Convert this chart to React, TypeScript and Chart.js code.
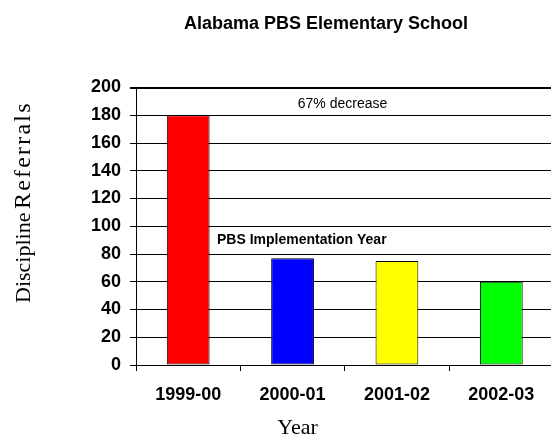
import React, { useEffect, useRef } from "react";
import { Chart, registerables } from "chart.js";

Chart.register(...registerables);

const categories = ["1999-00", "2000-01", "2001-02", "2002-03"];
const referrals = [180, 77, 75, 60];
const barColors = ["#FF0000", "#0000FF", "#FFFF00", "#00FF00"];
const yMin = 0;
const yMax = 200;
const yStep = 20;
const titleText = "Alabama PBS Elementary School";
const yTitleA = "Discipline";
const yTitleB = "Referrals";
const xTitle = "Year";
const noteTop = "67% decrease";
const noteMid = "PBS Implementation Year";

const SANS = "'Liberation Sans', Arial, sans-serif";
const SERIF = "'Liberation Serif', 'Times New Roman', serif";

const textPlugin = {
  id: "texts",
  afterDraw(chart: any) {
    const ctx = chart.ctx as CanvasRenderingContext2D;
    ctx.save();
    ctx.fillStyle = "#000";
    // Title
    ctx.font = `bold 18px ${SANS}`;
    ctx.textAlign = "center";
    ctx.textBaseline = "alphabetic";
    ctx.fillText(titleText, 326, 29);
    // annotations
    ctx.font = `14px ${SANS}`;
    ctx.fillText(noteTop, 342.5, 108);
    ctx.font = `bold 14px ${SANS}`;
    ctx.textAlign = "left";
    ctx.fillText(noteMid, 217, 244);
    // x title
    ctx.font = `22px ${SERIF}`;
    ctx.textAlign = "center";
    ctx.fillText(xTitle, 297.5, 434);
    // y title (rotated)
    ctx.translate(30, 303);
    ctx.rotate(-Math.PI / 2);
    ctx.textAlign = "left";
    ctx.font = `22px ${SERIF}`;
    ctx.fillText(yTitleA, 0, 0);
    let x = ctx.measureText(yTitleA).width + 3.5;
    ctx.font = `24px ${SERIF}`;
    const spacing = 2.2;
    for (const ch of yTitleB) {
      ctx.fillText(ch, x, 0);
      x += ctx.measureText(ch).width + spacing;
    }
    ctx.restore();
  },
};

export default function App() {
  const ref = useRef<HTMLCanvasElement | null>(null);
  useEffect(() => {
    if (!ref.current) return;
    const chart = new Chart(ref.current, {
      type: "bar",
      data: {
        labels: categories,
        datasets: [
          {
            data: referrals,
            backgroundColor: barColors,
            borderColor: "#000",
            borderWidth: 1,
            borderSkipped: false,
            categoryPercentage: 1,
            barPercentage: 0.41,
          },
        ],
      },
      options: {
        responsive: false,
        animation: false,
        layout: { padding: { top: 87.5, right: 2.5, left: 0, bottom: 0 } },
        plugins: {
          legend: { display: false },
          title: { display: false },
          tooltip: { enabled: false },
        },
        scales: {
          x: {
            offset: true,
            grid: {
              offset: true,
              drawOnChartArea: false,
              drawTicks: true,
              tickLength: 6,
              tickColor: "#000",
              color: "#000",
            },
            border: { display: true, color: "#000", width: 1 },
            ticks: {
              color: "#000",
              padding: 13,
              font: { family: SANS, size: 18, weight: "bold" },
            },
            afterFit(scale: any) {
              scale.height = 71;
              scale.paddingLeft = 0;
              scale.paddingRight = 0;
            },
          },
          y: {
            min: yMin,
            max: yMax,
            grid: {
              color: "#000",
              tickColor: "#000",
              tickLength: 6,
              lineWidth: (c: any) => (c.tick && c.tick.value === yMax ? 2 : 1),
            },
            border: { display: true, color: "#000", width: 1 },
            ticks: {
              stepSize: yStep,
              color: "#000",
              padding: 9,
              font: { family: SANS, size: 18, weight: "bold" },
            },
            afterFit(scale: any) {
              scale.width = 136;
              scale.paddingTop = 0;
              scale.paddingBottom = 0;
            },
          },
        },
      },
      plugins: [textPlugin],
    });
    return () => chart.destroy();
  }, []);
  return (
    <div
      style={{
        position: "absolute",
        left: 0,
        top: 0,
        width: 551,
        height: 436,
        overflow: "hidden",
        background: "#fff",
      }}
    >
      <canvas ref={ref} width={556} height={436} style={{ width: 556, height: 436, display: "block" }} />
    </div>
  );
}
